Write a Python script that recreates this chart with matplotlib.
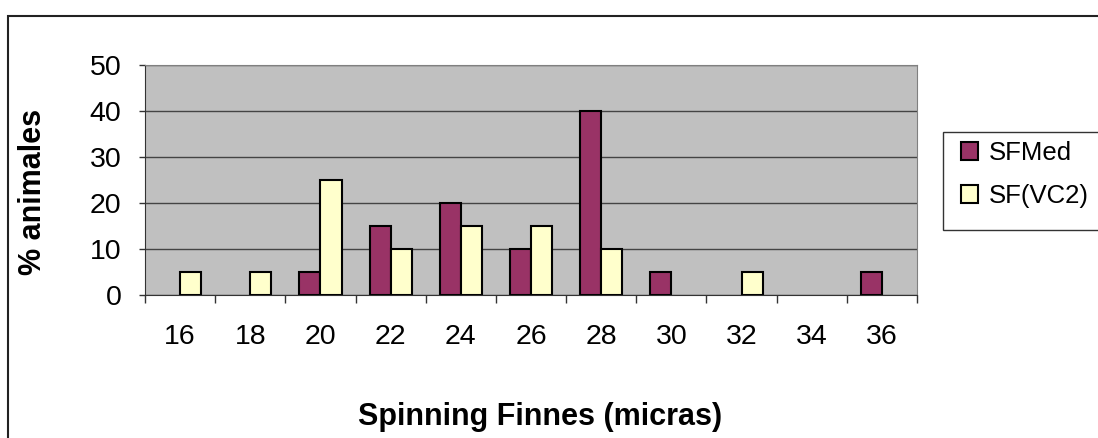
import matplotlib
matplotlib.use('Agg')
import matplotlib.pyplot as plt
from matplotlib.patches import Rectangle
import numpy as np

plt.rcParams['font.family'] = ['Liberation Sans', 'DejaVu Sans']

categories = ['16', '18', '20', '22', '24', '26', '28', '30', '32', '34', '36']
sf_med = [0, 0, 5, 15, 20, 10, 40, 5, 0, 0, 5]
sf_vc2 = [5, 5, 25, 10, 15, 15, 10, 0, 5, 0, 0]

W, H = 1098, 438
fig = plt.figure(figsize=(W / 100, H / 100), dpi=100)

# outer chart border (Excel style, clipped on right/bottom)
fig.patches.append(Rectangle((8 / W, -0.1), 1.2, 1 - 16 / H + 0.1,
                             transform=fig.transFigure, fill=False,
                             edgecolor='#222222', linewidth=1.5))

ax = fig.add_axes([145 / W, 1 - 295 / H, (917 - 145) / W, (295 - 65) / H])
ax.set_facecolor('#C0C0C0')

x = np.arange(len(categories))
bw = 0.3
# zero-height bars get no outline (Excel draws nothing for them)
lw_med = [1.5 if v > 0 else 0 for v in sf_med]
lw_vc2 = [1.5 if v > 0 else 0 for v in sf_vc2]
ax.bar(x - bw / 2, sf_med, bw, color='#993366', edgecolor='black',
       linewidth=lw_med, label='SFMed', zorder=3)
ax.bar(x + bw / 2, sf_vc2, bw, color='#FFFFCC', edgecolor='black',
       linewidth=lw_vc2, label='SF(VC2)', zorder=3)

ax.set_xlim(-0.5, len(categories) - 0.5)
ax.set_ylim(0, 50)
ax.set_yticks(range(0, 51, 10))
ax.yaxis.grid(True, color='#444444', linewidth=1, zorder=0)

ax.set_xticks(x)
ax.set_xticklabels(categories)
ax.set_xticks(np.arange(-0.5, len(categories)), minor=True)
ax.tick_params(axis='x', which='major', length=0, pad=21, labelsize=20.5)
ax.tick_params(axis='x', which='minor', length=6, width=1, color='#333333')
ax.tick_params(axis='y', length=4, width=1, color='#333333', labelsize=20.5, pad=13)

for s in ['top', 'right']:
    ax.spines[s].set_color('#808080')
ax.spines['left'].set_color('#333333')
ax.spines['bottom'].set_color('#333333')
ax.spines['bottom'].set_zorder(4)

fig.text(540 / W, 1 - 425 / H, 'Spinning Finnes (micras)', ha='center',
         va='baseline', fontsize=22, fontweight='bold')
fig.text(33 / W, 1 - 192 / H, '% animales', ha='center', va='center',
         rotation=90, fontsize=22, fontweight='bold')

# legend box (runs off the right edge like the original)
fig.patches.append(Rectangle((943 / W, 1 - 230 / H), 200 / W, 98 / H,
                             transform=fig.transFigure, facecolor='white',
                             edgecolor='#333333', linewidth=1))
leg = fig.legend(loc='upper left', bbox_to_anchor=(961 / W, 1 - 141 / H),
                 frameon=False, fontsize=18.5,
                 handlelength=0.68, handleheight=0.68, handletextpad=0.4,
                 labelspacing=0.75, borderpad=0, borderaxespad=0)
for h in leg.legend_handles:
    h.set_linewidth(1.5)

fig.savefig('out.png', dpi=100)
